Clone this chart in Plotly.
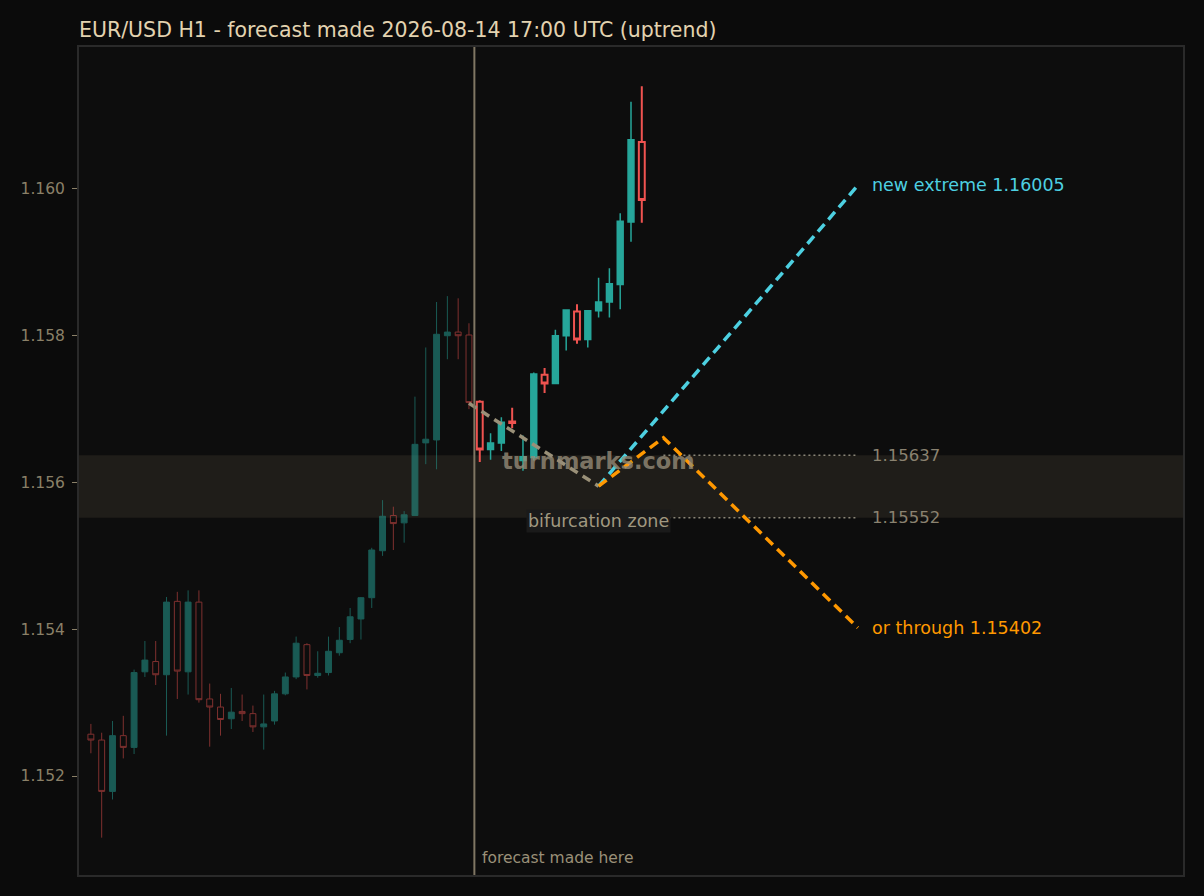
import plotly.graph_objects as go

# ---- data ----
past_x = list(range(0, 36))
past_open = [1.15257, 1.15249, 1.15179, 1.15255, 1.15239, 1.15342, 1.15356, 1.15338, 1.15438, 1.15342,
             1.15437, 1.15305, 1.15294, 1.15278, 1.15288, 1.15285, 1.15267, 1.15275, 1.15312, 1.15335,
             1.15379, 1.15337, 1.15341, 1.15368, 1.15386, 1.15414, 1.15443, 1.15507, 1.15555, 1.15545,
             1.15555, 1.15654, 1.15658, 1.15800, 1.15805, 1.15801]
past_high = [1.15271, 1.15259, 1.15275, 1.15282, 1.15345, 1.15384, 1.15384, 1.15444, 1.15451, 1.15453,
             1.15453, 1.15326, 1.15312, 1.15320, 1.15311, 1.15296, 1.15311, 1.15316, 1.15341, 1.15390,
             1.15381, 1.15370, 1.15390, 1.15403, 1.15429, 1.15444, 1.15511, 1.15576, 1.15567, 1.15561,
             1.15717, 1.15784, 1.15846, 1.15854, 1.15851, 1.15817]
past_low = [1.15231, 1.15116, 1.15168, 1.15224, 1.15230, 1.15335, 1.15324, 1.15255, 1.15305, 1.15311,
            1.15300, 1.15240, 1.15255, 1.15264, 1.15275, 1.15260, 1.15236, 1.15270, 1.15310, 1.15332,
            1.15318, 1.15334, 1.15337, 1.15364, 1.15381, 1.15386, 1.15429, 1.15500, 1.15508, 1.15518,
            1.15555, 1.15625, 1.15618, 1.15768, 1.15768, 1.15700]
past_close = [1.15249, 1.15179, 1.15255, 1.15239, 1.15341, 1.15358, 1.15338, 1.15437, 1.15343, 1.15437,
              1.15304, 1.15294, 1.15277, 1.15287, 1.15285, 1.15267, 1.15271, 1.15312, 1.15335, 1.15381,
              1.15337, 1.15340, 1.15370, 1.15385, 1.15417, 1.15443, 1.15508, 1.15554, 1.15544, 1.15556,
              1.15652, 1.15659, 1.15802, 1.15805, 1.15800, 1.15709]

fut_x = list(range(36, 52))
fut_open = [1.15710, 1.15645, 1.15654, 1.15683, 1.15630, 1.15634, 1.15747, 1.15735, 1.15800, 1.15833,
            1.15795, 1.15834, 1.15846, 1.15870, 1.15955, 1.16064]
fut_high = [1.15712, 1.15667, 1.15689, 1.15702, 1.15664, 1.15750, 1.15756, 1.15808, 1.15835, 1.15843,
            1.15835, 1.15879, 1.15892, 1.15967, 1.16119, 1.16140]
fut_low = [1.15628, 1.15631, 1.15643, 1.15674, 1.15616, 1.15630, 1.15722, 1.15735, 1.15780, 1.15789,
           1.15784, 1.15825, 1.15825, 1.15836, 1.15928, 1.15954]
fut_close = [1.15645, 1.15654, 1.15682, 1.15681, 1.15635, 1.15748, 1.15735, 1.15800, 1.15835, 1.15795,
             1.15834, 1.15846, 1.15871, 1.15956, 1.16067, 1.15985]

forecast_x = 35.5
approach_x = [35, 47]
approach_y = [1.15708, 1.15595]
up_x = [47, 71]
up_y = [1.15595, 1.16005]
down_x = [47, 53, 71]
down_y = [1.15595, 1.15661, 1.15402]
zone_hi = 1.15637
zone_lo = 1.15552
level_x = [53, 71]

y_ticks = [1.152, 1.154, 1.156, 1.158, 1.160]
y_tick_text = ["1.152", "1.154", "1.156", "1.158", "1.160"]

title_text = "EUR/USD H1 - forecast made 2026-08-14 17:00 UTC (uptrend)"

TEAL = "#26a69a"
RED = "#ef5350"
CYAN = "#4dd0e1"
ORANGE = "#ff9800"
TAN = "#9a9078"

fig = go.Figure()

fig.add_trace(go.Candlestick(
    x=past_x, open=past_open, high=past_high, low=past_low, close=past_close,
    increasing=dict(fillcolor=TEAL, line=dict(color=TEAL, width=1)),
    decreasing=dict(fillcolor="rgba(0,0,0,0)", line=dict(color=RED, width=1)),
    opacity=0.5, showlegend=False, hoverinfo="skip"))

fig.add_trace(go.Candlestick(
    x=fut_x, open=fut_open, high=fut_high, low=fut_low, close=fut_close,
    increasing=dict(fillcolor=TEAL, line=dict(color=TEAL, width=1.5)),
    decreasing=dict(fillcolor="rgba(0,0,0,0)", line=dict(color=RED, width=2)),
    showlegend=False, hoverinfo="skip"))

for lx, ly in ((level_x, [zone_hi, zone_hi]), (level_x, [zone_lo, zone_lo])):
    fig.add_trace(go.Scatter(x=lx, y=ly, mode="lines",
                             line=dict(color="#8a8678", width=1.5, dash="2px,3px"),
                             showlegend=False, hoverinfo="skip"))

fig.add_trace(go.Scatter(x=approach_x, y=approach_y, mode="lines",
                         line=dict(color=TAN, width=3.5, dash="9px,6px"),
                         showlegend=False, hoverinfo="skip"))
fig.add_trace(go.Scatter(x=up_x, y=up_y, mode="lines",
                         line=dict(color=CYAN, width=3.5, dash="10px,6px"),
                         showlegend=False, hoverinfo="skip"))
fig.add_trace(go.Scatter(x=down_x, y=down_y, mode="lines",
                         line=dict(color=ORANGE, width=3.5, dash="10px,6px"),
                         showlegend=False, hoverinfo="skip"))

fig.add_shape(type="rect", xref="paper", x0=0, x1=1, yref="y", y0=zone_lo, y1=zone_hi,
              fillcolor="#1f1d19", line=dict(width=0), layer="below")
fig.add_shape(type="line", xref="x", x0=forecast_x, x1=forecast_x, yref="paper", y0=0, y1=1,
              line=dict(color="#7f7663", width=2))

font = "DejaVu Sans"
fig.add_annotation(x=47, y=1.15629, text="<b>turnmarks.com</b>", showarrow=False,
                   font=dict(family=font, size=22.5, color="rgba(150,140,120,0.8)"))
fig.add_annotation(x=47, y=zone_lo, yshift=-3, text="bifurcation zone", showarrow=False,
                   bgcolor="#1a1a1a", borderpad=1,
                   font=dict(family=font, size=17.5, color="#a09880"))
fig.add_annotation(x=up_x[-1], y=up_y[-1], text=f"new extreme {up_y[-1]:.5f}", showarrow=False,
                   xanchor="left", xshift=12, font=dict(family=font, size=17.5, color=CYAN))
fig.add_annotation(x=down_x[-1], y=down_y[-1], text=f"or through {down_y[-1]:.5f}", showarrow=False,
                   xanchor="left", xshift=12, font=dict(family=font, size=17.5, color=ORANGE))
fig.add_annotation(x=level_x[-1], y=zone_hi, text=f"{zone_hi:.5f}", showarrow=False,
                   xanchor="left", xshift=12, font=dict(family=font, size=16.5, color="#8a8270"))
fig.add_annotation(x=level_x[-1], y=zone_lo, text=f"{zone_lo:.5f}", showarrow=False,
                   xanchor="left", xshift=12, font=dict(family=font, size=16.5, color="#8a8270"))
fig.add_annotation(x=forecast_x, xref="x", y=0.0205, yref="paper", text="forecast made here",
                   showarrow=False, xanchor="left", yanchor="middle", xshift=6,
                   font=dict(family=font, size=15.5, color=TAN))

fig.update_layout(
    width=1204, height=896,
    margin=dict(l=79, r=21, t=47, b=21),
    paper_bgcolor="#0b0b0b", plot_bgcolor="#0d0d0d",
    font=dict(family=font, color="#8a8068", size=15.5),
    title=dict(text=title_text, x=79 / 1204, xref="container", xanchor="left",
               y=1 - 30 / 896, yref="container", yanchor="middle",
               font=dict(family=font, size=20.5, color="#e3d3b0")),
    boxgap=0.22,
    showlegend=False,
)
fig.update_xaxes(range=[-1.1, 101.1], showgrid=False, zeroline=False, showticklabels=False,
                 ticks="", showline=True, mirror=True, linecolor="#2a2a2a", linewidth=2,
                 rangeslider=dict(visible=False))
fig.update_yaxes(range=[1.150651, 1.161935], tickvals=y_ticks, ticktext=y_tick_text,
                 showgrid=False, zeroline=False, ticks="outside", ticklen=5, tickcolor="#8a8068",
                 ticklabelstandoff=4,
                 showline=True, mirror=True, linecolor="#2a2a2a", linewidth=2,
                 tickfont=dict(family=font, size=15.5, color="#8a8068"))

fig.write_html("out.html",
               config={"displayModeBar": False},
               post_script="document.body.style.margin='0';"
                           "document.body.style.background='#0b0b0b';")
